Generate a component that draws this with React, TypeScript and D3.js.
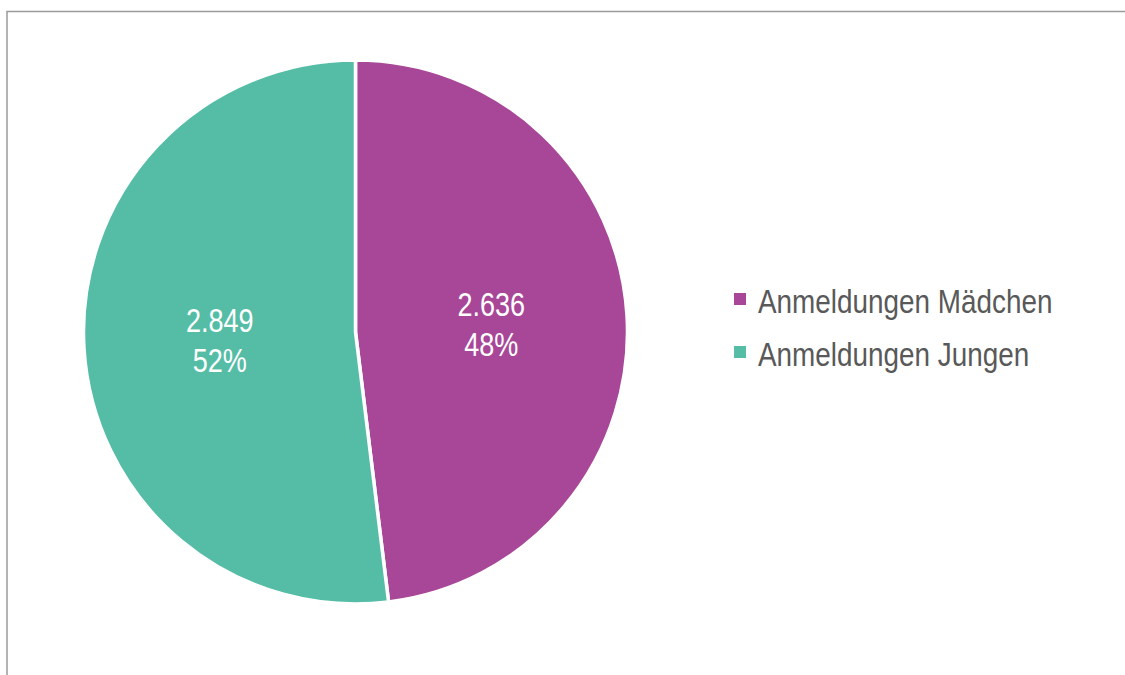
import { useMemo } from 'react';
import * as d3 from 'd3';

// Anmeldungen nach Geschlecht
const categories = ['Anmeldungen Mädchen', 'Anmeldungen Jungen'];
const values = [2636, 2849];
const colors = ['#A84798', '#55BDA6'];

const width = 1125;
const height = 675;
const cx = 355.5;
const cy = 332;
const radius = 272;
// no narrow font installed, so squeeze Liberation Sans (Arial metrics) to Arial Narrow width
const font = '"Liberation Sans", Arial, sans-serif';
const narrow = 0.82;

const fmt = (v: number) => d3.format(',')(v).replace(/,/g, '.');

export default function App() {
  const total = d3.sum(values);

  const arcs = useMemo(() => {
    const pie = d3.pie<number>().sort(null).value(d => d);
    return pie(values);
  }, []);

  const arc = d3.arc<d3.PieArcDatum<number>>().innerRadius(0).outerRadius(radius);
  const labelArc = d3.arc<d3.PieArcDatum<number>>().innerRadius(radius * 0.5).outerRadius(radius * 0.5);

  return (
    <svg
      width={width}
      height={height}
      style={{ position: 'absolute', left: 0, top: 0, background: '#fff' }}
    >
      {/* frame, runs off the right and bottom edge */}
      <rect x={7} y={11.5} width={width + 20} height={height + 20} fill="none" stroke="#9a9a9a" strokeWidth={1.5} />

      <g transform={`translate(${cx},${cy})`}>
        {arcs.map((a, i) => (
          <path key={categories[i]} d={arc(a) ?? ''} fill={colors[i]} stroke="#fff" strokeWidth={3.5} strokeLinejoin="round" />
        ))}
        {arcs.map((a, i) => {
          const [lx, ly] = labelArc.centroid(a);
          return (
            <text
              key={'l' + i}
              transform={`translate(${lx},${ly}) scale(${narrow},1)`}
              textAnchor="middle"
              fill="#fff"
              fontFamily={font}
              fontSize={33}
            >
              <tspan x={0} y={-8}>{fmt(values[i])}</tspan>
              <tspan x={0} y={32}>{Math.round((values[i] / total) * 100)}%</tspan>
            </text>
          );
        })}
      </g>

      {/* legend */}
      {categories.map((c, i) => (
        <g key={c} transform={`translate(734,${293 + i * 53})`}>
          <rect width={12} height={12} fill={colors[i]} />
          <text transform={`translate(24,20) scale(${narrow},1)`} fill="#595959" fontFamily={font} fontSize={34}>{c}</text>
        </g>
      ))}
    </svg>
  );
}
